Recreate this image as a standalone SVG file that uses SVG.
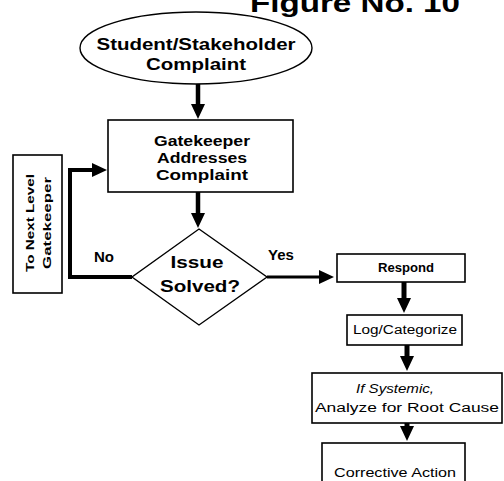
<svg xmlns="http://www.w3.org/2000/svg" width="504" height="481" viewBox="0 0 504 481">
  <defs>
    <style>
      .box { fill: #fff; stroke: #000; stroke-width: 1.6; }
      .shape { fill: #fff; stroke: #000; stroke-width: 1.4; }
      .lbl { font-family: "Liberation Sans", Arial, sans-serif; font-weight: bold; fill: #000; text-anchor: middle; }
      .lbl-n { font-family: "Liberation Sans", Arial, sans-serif; font-weight: normal; fill: #000; text-anchor: middle; }
      .flow { fill: none; stroke: #000; stroke-linejoin: miter; }
    </style>
    <marker id="head" viewBox="0 0 15 14" refX="1" refY="7" markerWidth="15" markerHeight="14" markerUnits="userSpaceOnUse" orient="auto">
      <path d="M0,0 L15,7 L0,14 z" fill="#000"/>
    </marker>
  </defs>

  <rect width="504" height="481" fill="#fff"/>

  <!-- heading, partly above the top edge -->
  <text class="lbl" x="355" y="12" font-size="26" textLength="210" lengthAdjust="spacingAndGlyphs">Figure No. 10</text>

  <!-- connectors -->
  <g id="connectors">
    <path class="flow" stroke-width="4.5" d="M198,84 V105" marker-end="url(#head)"/>
    <path class="flow" stroke-width="4.5" d="M198,192 V214" marker-end="url(#head)"/>
    <path class="flow" stroke-width="4" d="M132,277 H70 V170 H93" marker-end="url(#head)"/>
    <path class="flow" stroke-width="3" d="M267,277 H320" marker-end="url(#head)"/>
    <path class="flow" stroke-width="5" d="M404,282 V299" marker-end="url(#head)"/>
    <path class="flow" stroke-width="5" d="M407,345 V357" marker-end="url(#head)"/>
    <path class="flow" stroke-width="5" d="M407,423 V427" marker-end="url(#head)"/>
  </g>

  <g id="start">
    <ellipse class="shape" cx="196" cy="48" rx="116" ry="36"/>
    <text class="lbl" x="196" y="50" font-size="17" textLength="199" lengthAdjust="spacingAndGlyphs">Student/Stakeholder</text>
    <text class="lbl" x="196" y="70" font-size="17" textLength="100" lengthAdjust="spacingAndGlyphs">Complaint</text>
  </g>

  <g id="gatekeeper">
    <rect class="box" x="108" y="120" width="185" height="72"/>
    <text class="lbl" x="202" y="146" font-size="14" textLength="96" lengthAdjust="spacingAndGlyphs">Gatekeeper</text>
    <text class="lbl" x="202" y="163" font-size="14" textLength="90" lengthAdjust="spacingAndGlyphs">Addresses</text>
    <text class="lbl" x="202" y="180" font-size="14" textLength="92" lengthAdjust="spacingAndGlyphs">Complaint</text>
  </g>

  <g id="next-level">
    <rect class="box" x="13" y="155" width="49" height="138"/>
    <text class="lbl" transform="translate(34,223) rotate(-90)" font-size="11" textLength="98" lengthAdjust="spacingAndGlyphs">To Next Level</text>
    <text class="lbl" transform="translate(51,223) rotate(-90)" font-size="11" textLength="92" lengthAdjust="spacingAndGlyphs">Gatekeeper</text>
  </g>

  <g id="decision">
    <polygon class="shape" points="199,229 267,277 199,325 132,277"/>
    <text class="lbl" x="197" y="268" font-size="17" textLength="53" lengthAdjust="spacingAndGlyphs">Issue</text>
    <text class="lbl" x="200" y="292" font-size="17" textLength="80" lengthAdjust="spacingAndGlyphs">Solved?</text>
    <text class="lbl" x="104" y="262" font-size="15">No</text>
    <text class="lbl" x="281" y="260" font-size="15">Yes</text>
  </g>

  <g id="respond">
    <rect class="box" x="337" y="254" width="128" height="28"/>
    <text class="lbl" x="406" y="272" font-size="12" textLength="56" lengthAdjust="spacingAndGlyphs">Respond</text>
  </g>

  <g id="log">
    <rect class="box" x="347" y="315" width="115" height="30"/>
    <text class="lbl-n" x="405" y="334" font-size="12" textLength="104" lengthAdjust="spacingAndGlyphs">Log/Categorize</text>
  </g>

  <g id="analyze">
    <rect class="box" x="312" y="373" width="190" height="50"/>
    <text class="lbl-n" x="395" y="393" font-size="12" font-style="italic" textLength="78" lengthAdjust="spacingAndGlyphs">If Systemic,</text>
    <text class="lbl-n" x="407" y="412" font-size="12.5" textLength="184" lengthAdjust="spacingAndGlyphs">Analyze for Root Cause</text>
  </g>

  <g id="corrective">
    <rect class="box" x="322" y="443" width="143" height="50"/>
    <text class="lbl-n" x="395" y="477" font-size="12.5" textLength="122" lengthAdjust="spacingAndGlyphs">Corrective Action</text>
  </g>
</svg>
